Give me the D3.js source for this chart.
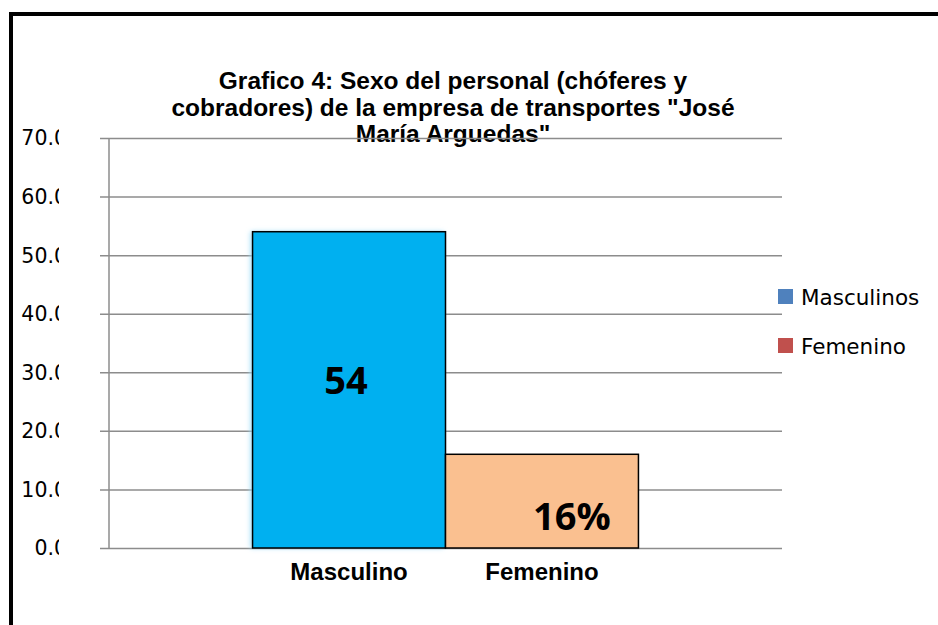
<!DOCTYPE html>
<html>
<head>
<meta charset="utf-8">
<script src="https://cdn.jsdelivr.net/npm/d3@7"></script>
<style>
  body { margin: 0; background: #fff; }
  svg { display: block; }
</style>
</head>
<body>
<div id="chart"></div>
<script>
// data
const seriesNames = ["Masculinos", "Femenino"]
const values = [54, 16]
const valueLabels = ["54", "16%"]
const axisLabels = ["Masculino", "Femenino"]
const barColors = ["#00B0F0", "#FAC090"]
const legendColors = ["#4F81BD", "#C0504D"]
const yTicks = [0, 10, 20, 30, 40, 50, 60, 70]
const titleLines = [
    "Grafico 4: Sexo del personal (chóferes y",
    "cobradores) de la empresa de transportes \"José",
    "María Arguedas\""
]
// label nudges (px) to sit where Excel put them
const labelDx = [-3, 30]
const labelDy = [-10, 15]

const width = 938, height = 625
const plotLeft = 109, plotRight = 782, plotTop = 138, plotBottom = 548

const svg = d3.select("#chart").append("svg")
    .attr("width", width)
    .attr("height", height)

// outer frame
svg.append("rect")
    .attr("x", 11).attr("y", 14)
    .attr("width", 1000).attr("height", 700)
    .attr("fill", "none")
    .attr("stroke", "#000")
    .attr("stroke-width", 4)

let y = d3.scaleLinear().domain([0, 70]).range([plotBottom, plotTop])
let x = d3.scaleBand().domain(["grupo"]).range([plotLeft, plotRight])
    .paddingInner(0).paddingOuter(0.372)
let xs = d3.scaleBand().domain(seriesNames).range([0, x.bandwidth()])

// title
svg.append("g").selectAll("text")
    .data(titleLines)
    .enter()
    .append("text")
    .attr("x", 453)
    .attr("y", (d, i) => 89 + i * 26.5)
    .attr("text-anchor", "middle")
    .attr("font-family", "'Liberation Sans', Arial, sans-serif")
    .attr("font-weight", "bold")
    .attr("font-size", "24.5px")
    .attr("fill", "#000")
    .text(d => d)

// gridlines + tick marks
let yAxis = d3.axisLeft(y)
    .tickValues(yTicks)
    .tickSize(-(plotRight - plotLeft))
    .tickFormat("")
let gAxis = svg.append("g")
    .attr("transform", `translate(${plotLeft},0)`)
    .call(yAxis)
gAxis.select(".domain").remove()
gAxis.selectAll(".tick line")
    .attr("x1", -9)
    .attr("stroke", "#8c8c8c")
    .attr("stroke-width", 1.5)

svg.append("line")
    .attr("x1", plotLeft).attr("x2", plotLeft)
    .attr("y1", plotTop).attr("y2", plotBottom)
    .attr("stroke", "#8c8c8c")
    .attr("stroke-width", 1.5)

// tick labels clipped like in the original
svg.append("clipPath").attr("id", "tickClip")
    .append("rect").attr("x", 0).attr("y", 0).attr("width", 59).attr("height", height)
svg.append("g")
    .attr("clip-path", "url(#tickClip)")
    .selectAll("text")
    .data(yTicks)
    .enter()
    .append("text")
    .attr("x", 67)
    .attr("y", d => y(d))
    .attr("dy", "0.36em")
    .attr("text-anchor", "end")
    .attr("font-family", "DejaVu Sans, sans-serif")
    .attr("font-size", "20.5px")
    .attr("fill", "#000")
    .text(d => d3.format(".1f")(d))

// soft glow behind the bars
let defs = svg.append("defs")
let glow = defs.append("filter").attr("id", "glow")
    .attr("x", "-10%").attr("y", "-5%").attr("width", "120%").attr("height", "110%")
glow.append("feGaussianBlur").attr("stdDeviation", 2.5)

let bars = values.map((v, i) => ({ name: seriesNames[i], value: v, i: i }))

svg.append("g").selectAll("rect")
    .data(bars.slice(0, 1))
    .enter()
    .append("rect")
    .attr("x", d => x("grupo") + xs(d.name) - 2)
    .attr("y", d => y(d.value))
    .attr("width", d => xs.bandwidth())
    .attr("height", d => y(0) - y(d.value))
    .attr("fill", "#9fdcf7")
    .attr("filter", "url(#glow)")

svg.append("g").selectAll("rect")
    .data(bars)
    .enter()
    .append("rect")
    .attr("x", d => x("grupo") + xs(d.name))
    .attr("y", d => y(d.value))
    .attr("width", xs.bandwidth())
    .attr("height", d => y(0) - y(d.value))
    .attr("fill", d => barColors[d.i])
    .attr("stroke", "#000")
    .attr("stroke-width", 1.5)

// value labels
svg.append("g").selectAll("text")
    .data(bars)
    .enter()
    .append("text")
    .attr("x", d => x("grupo") + xs(d.name) + xs.bandwidth() / 2 + labelDx[d.i])
    .attr("y", d => y(d.value / 2) + labelDy[d.i])
    .attr("dy", "0.36em")
    .attr("text-anchor", "middle")
    .attr("font-family", "Open Sans, sans-serif")
    .attr("font-weight", "bold")
    .attr("font-size", "38px")
    .attr("fill", "#000")
    .text(d => valueLabels[d.i])

// category labels under each bar
svg.append("g").selectAll("text")
    .data(bars)
    .enter()
    .append("text")
    .attr("x", d => x("grupo") + xs(d.name) + xs.bandwidth() / 2)
    .attr("y", 580)
    .attr("text-anchor", "middle")
    .attr("font-family", "'Liberation Sans', Arial, sans-serif")
    .attr("font-weight", "bold")
    .attr("font-size", "24px")
    .attr("fill", "#000")
    .text(d => axisLabels[d.i])

// legend
let legend = svg.append("g").attr("transform", "translate(778,289)")
let items = legend.selectAll("g")
    .data(seriesNames)
    .enter()
    .append("g")
    .attr("transform", (d, i) => `translate(0,${i * 49})`)
items.append("rect")
    .attr("width", 15).attr("height", 15)
    .attr("fill", (d, i) => legendColors[i])
items.append("text")
    .attr("x", 23).attr("y", 8)
    .attr("dy", "0.36em")
    .attr("font-family", "DejaVu Sans, sans-serif")
    .attr("font-size", "21.5px")
    .attr("fill", "#000")
    .text(d => d)
</script>
</body>
</html>
